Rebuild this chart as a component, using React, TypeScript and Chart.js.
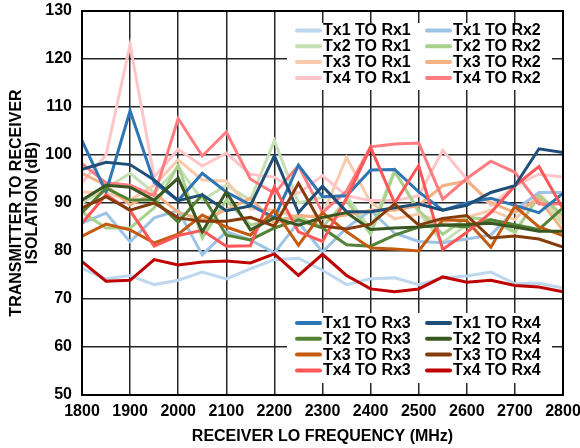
import { useEffect, useRef } from "react";
import { Chart, registerables } from "chart.js";

Chart.register(...registerables);

// ---- data ----
const frequencies = [1800, 1850, 1900, 1950, 2000, 2050, 2100, 2150, 2200, 2250, 2300, 2350, 2400, 2450, 2500, 2550, 2600, 2650, 2700, 2750, 2800];

const tx1Rx1 = [76.4, 74.2, 74.9, 73, 73.9, 75.6, 74.2, 76.3, 78.2, 78.5, 76, 73, 74.2, 74.4, 73, 74.4, 74.8, 75.6, 73.2, 73.3, 72.3];
const tx2Rx1 = [90, 93.1, 96.2, 92.1, 97.5, 90.6, 93.7, 90.6, 103, 90, 91.2, 91.5, 84.5, 96.9, 88, 81.8, 85.5, 86.5, 83.8, 91.5, 85.5];
const tx3Rx1 = [92.3, 92.1, 90.6, 93.7, 99, 94.8, 94.6, 88.8, 88.5, 87, 87.5, 99.5, 90.1, 86.7, 87.7, 86, 87, 88.5, 86.5, 92, 86.5];
const tx4Rx1 = [94.2, 100, 123, 95.4, 101.2, 97.7, 100.4, 96, 95.4, 92, 95.7, 91.5, 90.5, 90.5, 91.5, 101, 95, 89.5, 93.6, 96, 95.4];
const tx1Rx2 = [85.8, 87.9, 81.9, 86.9, 88.5, 79.2, 84, 82.3, 79.6, 86, 79.8, 84.8, 88.5, 83.7, 82, 81.7, 82.5, 83.3, 88.5, 92.2, 92.2];
const tx2Rx2 = [88.1, 84.8, 84.8, 89, 97.9, 82.7, 90.6, 85.4, 86.5, 87, 85, 90.5, 83.5, 96.5, 88.5, 83.5, 87, 86.5, 84, 91.5, 87.5];
const tx3Rx2 = [96.2, 93.7, 89.6, 92.1, 88.1, 86.5, 88.5, 91, 85.8, 87.5, 86.8, 87.5, 88.5, 88.5, 89.5, 93.6, 94.6, 90.1, 88, 90.8, 84.3];
const tx4Rx2 = [98.2, 94.2, 93.7, 91.5, 107.6, 99.8, 104.8, 95, 92, 97.8, 88, 92.5, 101.7, 102.3, 102.5, 90.8, 95.1, 98.7, 96.4, 89.8, 89.8];
const tx1Rx3 = [103, 92.3, 109.2, 94.3, 90.5, 96.2, 92.3, 89.6, 86.9, 97.9, 91.3, 91.5, 96.9, 97, 92.3, 88.5, 90, 91, 89.5, 88, 92];
const tx2Rx3 = [88, 93.1, 90.6, 90.6, 86, 91.7, 83.3, 82.3, 84.8, 86.5, 84.8, 81.3, 81, 83.3, 85, 85.4, 85, 86.5, 85.5, 84.5, 89];
const tx3Rx3 = [83.1, 85.6, 84.4, 81.7, 83.5, 87.5, 85, 83.3, 88.5, 81.2, 88, 84, 80.6, 80.4, 80, 86.5, 86.3, 80.8, 89.3, 85, 83.2];
const tx4Rx3 = [85.8, 91.7, 88.4, 81, 83.2, 84.3, 81, 81.1, 93.4, 84, 82, 91, 101.6, 90, 97.8, 80.3, 83.9, 88, 93.6, 97.6, 88.8];
const tx1Rx4 = [97, 98.5, 98, 94.8, 90.5, 91.7, 88.4, 89.4, 99.8, 88, 93.5, 88.2, 88.2, 89, 89.8, 88.5, 89.5, 92.2, 93.6, 101.3, 100.5];
const tx2Rx4 = [90.6, 93.7, 93.3, 90.6, 95.2, 84, 92.3, 84.4, 86.9, 85.4, 87, 88, 84.5, 84.8, 85, 85.4, 85.5, 85.8, 85, 84.1, 84.1];
const tx3Rx4 = [89, 91.3, 88.5, 90, 86.9, 86.2, 86.2, 87, 85.2, 94.1, 85.2, 84.6, 85.6, 89.8, 85.4, 86.8, 87.4, 82.7, 83.1, 82.5, 80.8];
const tx4Rx4 = [77.8, 73.7, 73.9, 78.2, 77.1, 77.7, 77.9, 77.5, 79.4, 74.9, 79.3, 74.9, 72.1, 71.5, 72.1, 74.6, 73.5, 73.9, 72.8, 72.5, 71.5];

const seriesNames = [
  "Tx1 TO Rx1", "Tx2 TO Rx1", "Tx3 TO Rx1", "Tx4 TO Rx1",
  "Tx1 TO Rx2", "Tx2 TO Rx2", "Tx3 TO Rx2", "Tx4 TO Rx2",
  "Tx1 TO Rx3", "Tx2 TO Rx3", "Tx3 TO Rx3", "Tx4 TO Rx3",
  "Tx1 TO Rx4", "Tx2 TO Rx4", "Tx3 TO Rx4", "Tx4 TO Rx4",
];
const seriesValues = [
  tx1Rx1, tx2Rx1, tx3Rx1, tx4Rx1,
  tx1Rx2, tx2Rx2, tx3Rx2, tx4Rx2,
  tx1Rx3, tx2Rx3, tx3Rx3, tx4Rx3,
  tx1Rx4, tx2Rx4, tx3Rx4, tx4Rx4,
];
const seriesColors = [
  "#bdd7ee", "#c5e0b4", "#f8cbad", "#ffc5c8",
  "#9dc3e6", "#a9d18e", "#f4b183", "#ff7c80",
  "#2e75b6", "#548235", "#c55a11", "#ff5757",
  "#1f4e79", "#385723", "#843c0c", "#c00000",
];

const xMin = 1800;
const xMax = 2800;
const xStep = 100;
const yMin = 50;
const yMax = 130;
const yStep = 10;
const xTitle = "RECEIVER LO FREQUENCY (MHz)";
const yTitle = ["TRANSMITTER TO RECEIVER", "ISOLATION (dB)"];

const FONT = "'Liberation Sans', Arial, sans-serif";

const framePlugin = {
  id: "frameAndLegends",
  afterDatasetsDraw(chart: any) {
    const { ctx, chartArea } = chart;
    const { left, top, right, bottom } = chartArea;
    ctx.save();
    ctx.strokeStyle = "#000";
    ctx.lineWidth = 2;
    ctx.strokeRect(left, top, right - left, bottom - top);

    const drawLegend = (boxTop: number, boxBottom: number, firstRowY: number, groups: number[][]) => {
      const boxLeft = left + 205;
      const boxRight = right - 11;
      ctx.fillStyle = "#fff";
      ctx.fillRect(boxLeft, boxTop, boxRight - boxLeft, boxBottom - boxTop);
      ctx.font = `bold 16px ${FONT}`;
      ctx.textBaseline = "middle";
      ctx.textAlign = "left";
      const colX = [left + 213, left + 343];
      groups.forEach((col, ci) => {
        col.forEach((si, ri) => {
          const y = firstRowY + ri * 15.8;
          const x0 = colX[ci];
          ctx.strokeStyle = seriesColors[si];
          ctx.lineWidth = 4;
          ctx.lineCap = "round";
          ctx.beginPath();
          ctx.moveTo(x0 + 2, y);
          ctx.lineTo(x0 + 25, y);
          ctx.stroke();
          ctx.fillStyle = "#000";
          ctx.fillText(seriesNames[si], x0 + 28, y + 0.5);
        });
      });
    };
    drawLegend(top + 12, top + 79, top + 19.5, [[0, 1, 2, 3], [4, 5, 6, 7]]);
    drawLegend(top + 302, top + 372, top + 312, [[8, 9, 10, 11], [12, 13, 14, 15]]);
    ctx.restore();
  },
};

export default function App() {
  const canvasRef = useRef<HTMLCanvasElement>(null);

  useEffect(() => {
    const canvas = canvasRef.current;
    if (!canvas) return;
    const datasets = seriesValues.map((vals, i) => ({
      label: seriesNames[i],
      data: frequencies.map((f, j) => ({ x: f, y: vals[j] })),
      borderColor: seriesColors[i],
      backgroundColor: seriesColors[i],
      borderWidth: 3,
      pointRadius: 0,
      tension: 0,
      fill: false,
      order: seriesValues.length - i,
    }));
    const tickFont = { family: FONT, size: 16, weight: "bold" as const };
    const chart = new Chart(canvas, {
      type: "line",
      data: { datasets },
      options: {
        animation: false,
        responsive: false,
        devicePixelRatio: 1,
        layout: { padding: { top: 11, right: 17, left: 0, bottom: 0 } },
        plugins: { legend: { display: false }, tooltip: { enabled: false } },
        scales: {
          x: {
            type: "linear",
            min: xMin,
            max: xMax,
            ticks: { stepSize: xStep, color: "#000", font: tickFont, padding: 7, maxRotation: 0, callback: (v: any) => String(v) },
            grid: { color: "#262626", lineWidth: 1.5, drawTicks: false },
            border: { display: false },
            title: { display: true, text: xTitle, color: "#000", font: { family: FONT, size: 16, weight: "bold", lineHeight: 1 }, padding: { top: 0, bottom: 3 } },
            afterFit: (s: any) => {
              s.height = 53;
              s.paddingLeft = 0;
              s.paddingRight = 0;
            },
          },
          y: {
            min: yMin,
            max: yMax,
            ticks: { stepSize: yStep, color: "#000", font: tickFont, padding: 10, callback: (v: any) => String(v) },
            grid: { color: "#262626", lineWidth: 1.5, drawTicks: false },
            border: { display: false },
            title: { display: true, text: yTitle, color: "#000", font: { family: FONT, size: 16, weight: "bold", lineHeight: 1 }, padding: { top: 9, bottom: 0 } },
            afterFit: (s: any) => {
              s.width = 82;
              s.paddingTop = 0;
              s.paddingBottom = 0;
            },
          },
        },
      },
      plugins: [framePlugin],
    });
    return () => chart.destroy();
  }, []);

  return (
    <div style={{ position: "absolute", left: 0, top: 0, width: 580, height: 448, background: "#fff" }}>
      <canvas ref={canvasRef} width={580} height={448} />
    </div>
  );
}
